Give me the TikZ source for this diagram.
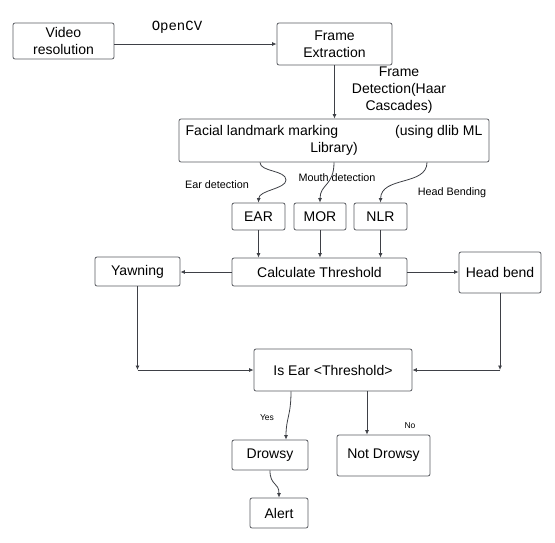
\documentclass[tikz,border=0pt]{standalone}
\usepackage{fontspec}
\setmainfont{Liberation Sans}
\newfontfamily\codefont{Liberation Mono}
\usetikzlibrary{calc}
\usetikzlibrary{arrows.meta}
\definecolor{ink}{RGB}{62,64,70}
\definecolor{frameline}{RGB}{88,90,96}

\begin{document}
\begin{tikzpicture}[
		x=1pt, y=-1pt,
		>={Latex[length=4.5pt,width=4pt]},
		box/.style={draw=frameline, line width=0.8pt, rounded corners=2pt, inner sep=0pt, align=center, font=\fontsize{14}{17}\selectfont},
		flow/.style={->, draw=ink, line width=0.8pt},
		note/.style={align=center, font=\fontsize{14}{17}\selectfont},
		tag/.style={font=\fontsize{10.8}{13}\selectfont},
		mini/.style={font=\fontsize{8.5}{10}\selectfont},
	]
	\useasboundingbox (0,0) rectangle (555,542);
	% top row
	\node[box, minimum width=101pt, minimum height=36pt] (video) at (63.5,41) {Video\\resolution};
	\node[box, minimum width=115pt, minimum height=42pt] (frame) at (334.5,44) {Frame\\Extraction};
	\node[box, minimum width=310pt, minimum height=43pt] (facial) at (334,140.5) {Facial landmark marking\hspace{57pt}(using dlib ML\\Library)};
	\node[note, font=\codefont\fontsize{14}{17}\selectfont] (opencv) at (177,27) {OpenCV};
	\node[note] (haar) at (399,90) {Frame\\Detection(Haar\\Cascades)};
	% ratios
	\node[box, minimum width=53pt, minimum height=27pt] (ear) at (258.5,216.5) {EAR};
	\node[box, minimum width=52pt, minimum height=27pt] (mor) at (320,216.5) {MOR};
	\node[box, minimum width=53pt, minimum height=27pt] (nlr) at (380.5,216.5) {NLR};
	\node[tag] (eardet) at (217,185) {Ear detection};
	\node[tag] (mouthdet) at (337,178) {Mouth detection};
	\node[tag] (headdet) at (452,193) {Head Bending};
	% threshold row
	\node[box, minimum width=175pt, minimum height=28pt] (calc) at (319.5,272) {Calculate Threshold};
	\node[box, minimum width=85pt, minimum height=29pt] (yawn) at (137.5,271.5) {Yawning};
	\node[box, minimum width=82pt, minimum height=41pt] (hbend) at (500,272.5) {Head bend};
	% decision
	\node[box, minimum width=158pt, minimum height=42pt] (isear) at (333,370) {Is Ear <Threshold>};
	\node[box, minimum width=76pt, minimum height=30pt] (drowsy) at (270,455) {Drowsy};
	\node[box, minimum width=93pt, minimum height=41pt] (notd) at (383.5,455.5) {Not Drowsy};
	\node[box, minimum width=58pt, minimum height=30pt] (alert) at (279,513) {Alert};
	\node[mini] (yes) at (267,418) {Yes};
	\node[mini] (no) at (410,426) {No};
	\coordinate (yawnc) at (yawn.south |- isear.west);
	\coordinate (hbendc) at (hbend.south |- isear.east);

	\draw[flow] (video.east |- frame.west) -- (frame.west);
	\draw[flow] (frame.south) -- (frame.south |- facial.north);
	\draw[flow] (facial.south -| 260,0) .. controls (260,172) and (286,170) .. (286,180)
		.. controls (286,189) and (259,190) .. (ear.north);
	\draw[flow] (facial.south -| 334,0) .. controls (334,186) and (320,184) .. (mor.north);
	\draw[flow] (facial.south -| 427,0) .. controls (427,186) and (381,176) .. (nlr.north);
	\foreach \r in {ear, mor, nlr}
		\draw[flow] (\r.south) -- (\r.south |- calc.north);
	\draw[flow] (calc.west) -- (yawn.east |- calc.west);
	\draw[flow] (calc.east) -- (hbend.west |- calc.east);
	\draw[flow] (yawn.south) -- (yawnc);
	\draw[flow] (yawnc) -- (isear.west);
	\draw[flow] (hbend.south) -- (hbendc);
	\draw[flow] (hbendc) -- (isear.east);
	\draw[flow] (isear.south -| 291,0) .. controls (291,416) and (286,418) .. (drowsy.north -| 286,0);
	\draw[flow] (isear.south -| 367,0) -- (notd.north -| 367,0);
	\draw[flow] (drowsy.south) .. controls (270,486) and (279,482) .. (alert.north);
\end{tikzpicture}
\end{document}
